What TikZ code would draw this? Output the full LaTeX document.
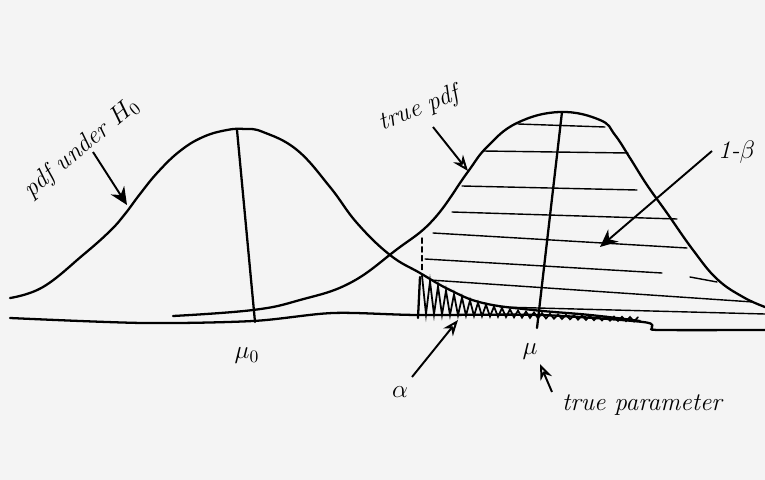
\documentclass[tikz,border=0pt]{standalone}
\usepackage{amsmath}
\usepackage{xcolor}
\usetikzlibrary{arrows.meta,positioning,calc}
\definecolor{paper}{HTML}{F4F4F4}

\begin{document}
\begin{tikzpicture}[
  x=0.02cm,y=-0.02cm,
  curve/.style={line width=1.3pt,line cap=round,line join=round},
  hatch/.style={line width=0.8pt,line cap=round},
  lbl/.style={font=\Large\itshape,inner sep=1pt},
  pointer/.style={line width=1.1pt,-{Stealth[length=10pt,width=9pt]}},
  openpointer/.style={line width=1.1pt,-{Stealth[open,length=9pt,width=7pt]}}
]
  \fill[paper] (0,0) rectangle (765,480);
  \clip (0,0) rectangle (765,480);

  % axis
  \draw[curve] plot[smooth,tension=0.5] coordinates {(10,318) (143,323) (253,321) (333,313)
    (417,315) (540,315) (643,322) (652,328) (660,330) (765,330)};

  % pdf under H0
  \draw[curve] plot[smooth,tension=0.7] coordinates {(10,298) (43,287) (83,255) (110,231)
    (125,214) (140,194) (158,172) (180,151) (203,137) (227,130) (245,129) (263,132)
    (297,150) (330,187) (357,223) (390,255) (420,273) (450,290) (483,303) (533,310)
    (590,315) (640,321)};
  % true pdf
  \draw[curve] plot[smooth,tension=0.7] coordinates {(173,316) (253,310) (300,300) (350,283)
    (396,250) (433,220) (467,173) (487,147) (517,123) (560,112) (600,120) (615,135)
    (630,158) (647,185) (667,213) (693,250) (717,279) (743,297) (765,307)};

  % means
  \draw[curve] (237,130) -- (255,322);
  \draw[curve] (562,112) -- (537,328);

  % critical value
  \draw[hatch,densely dashed] (422,238) -- (422,273);
  \draw[curve] (420,277) -- (418,318);

  % 1-beta hatching
  \draw[hatch] (518,124) -- (605,127);
  \draw[hatch] (483,151) -- (628,153);
  \draw[hatch] (462,186) -- (637,190);
  \draw[hatch] (452,212) -- (677,219);
  \draw[hatch] (433,233) -- (687,248);
  \draw[hatch] (425,259) -- (662,273);
  \draw[hatch] (690,277) -- (717,282);
  \draw[hatch] (430,280) -- (753,302);
  \draw[hatch] (500,307) -- (765,314);

  % alpha scribble
  \draw[hatch,line width=1pt] plot[variable=\k,domain=0:54,samples=55]
    ({422+4*\k},{ifthenelse(mod(round(\k),2)==0,318-44*exp(-(4*\k+2)/55),314+0.035*(4*\k+2))});

  % labels
  \node[lbl,rotate=40] (hzero) at (82,148) {pdf under $H_0$};
  \node[lbl,rotate=22] (truepdf) at (419,109) {true pdf};
  \node[lbl,anchor=west] (power) at (716,152) {1-$\beta$};
  \node[lbl] (muzero) at (247,356) {$\mu_0$};
  \node[lbl] (mutrue) at (530,352) {$\mu$};
  \node[lbl] (alpha) at (400,392) {$\alpha$};
  \node[lbl] (truepar) at (642,405) {true parameter};

  % arrows
  \coordinate (hzero-tail) at (93,152);
  \coordinate (hzero-tip) at (127,205);
  \coordinate (truepdf-tail) at (433,127);
  \coordinate (truepdf-tip) at (468,171);
  \coordinate (power-tail) at (712,151);
  \coordinate (power-tip) at (600,247);
  \coordinate (alpha-tail) at (412,377);
  \coordinate (alpha-tip) at (458,320);
  \coordinate (truepar-tail) at (552,392);
  \coordinate (truepar-tip) at (540,364);
  \draw[pointer] (hzero-tail) -- (hzero-tip);
  \draw[openpointer] (truepdf-tail) -- (truepdf-tip);
  \draw[pointer] (power-tail) -- (power-tip);
  \draw[openpointer] (alpha-tail) -- (alpha-tip);
  \draw[openpointer] (truepar-tail) -- (truepar-tip);
\end{tikzpicture}
\end{document}
